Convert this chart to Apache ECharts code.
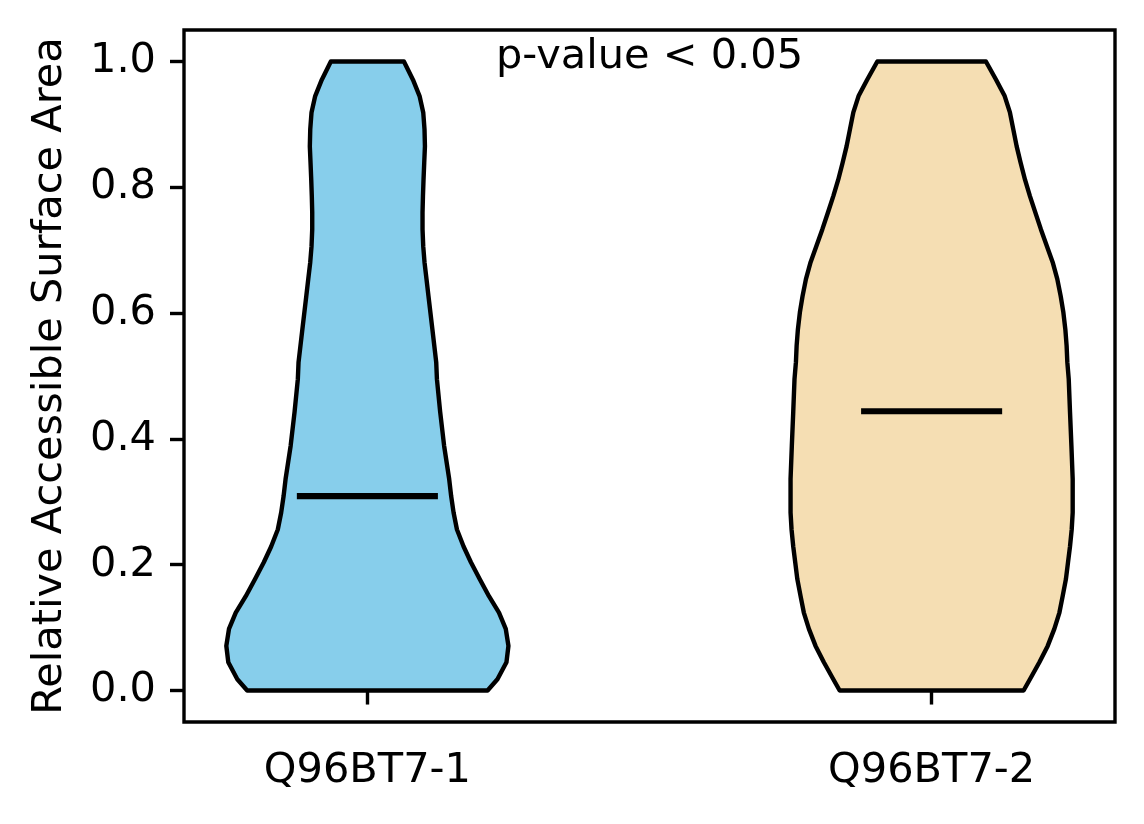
<!DOCTYPE html>
<html>
<head>
<meta charset="utf-8">
<script src="https://cdn.jsdelivr.net/npm/echarts@6/dist/echarts.min.js"></script>
<style>
html,body{margin:0;padding:0;background:#fff;}
#chart{width:1144px;height:824px;}
</style>
</head>
<body>
<div id="chart"></div>
<script>
// ---- data ----
const categories = ['Q96BT7-1', 'Q96BT7-2'];
const positions = [1, 2];
const medians = [0.309, 0.444];
const yTicks = [0, 0.2, 0.4, 0.6, 0.8, 1.0];
const annotation = 'p-value < 0.05';

// violin 1 density profile (y value, relative density 0..1)
const kdeY1 = [0.000, 0.018, 0.045, 0.071, 0.098, 0.124, 0.150, 0.177, 0.204, 0.229, 0.256, 0.283, 0.309, 0.336, 0.389, 0.443, 0.495, 0.522, 0.574, 0.627, 0.654, 0.681, 0.706, 0.733, 0.760, 0.786, 0.812, 0.839, 0.865, 0.892, 0.919, 0.945, 0.971, 1.000];
const kdeW1 = [0.852, 0.922, 0.986, 1.000, 0.981, 0.933, 0.862, 0.797, 0.734, 0.682, 0.635, 0.611, 0.594, 0.580, 0.544, 0.516, 0.493, 0.488, 0.461, 0.433, 0.419, 0.405, 0.396, 0.391, 0.391, 0.394, 0.398, 0.403, 0.408, 0.405, 0.396, 0.370, 0.323, 0.259];

// violin 2 density profile
const kdeY2 = [0.000, 0.018, 0.045, 0.071, 0.098, 0.124, 0.150, 0.177, 0.204, 0.229, 0.256, 0.283, 0.336, 0.389, 0.443, 0.495, 0.522, 0.548, 0.574, 0.601, 0.627, 0.654, 0.681, 0.706, 0.733, 0.760, 0.786, 0.812, 0.839, 0.865, 0.892, 0.919, 0.945, 0.971, 1.000];
const kdeW2 = [0.652, 0.697, 0.764, 0.823, 0.870, 0.906, 0.929, 0.952, 0.967, 0.981, 0.993, 1.000, 1.000, 0.991, 0.981, 0.972, 0.962, 0.957, 0.948, 0.934, 0.915, 0.891, 0.858, 0.818, 0.775, 0.735, 0.697, 0.662, 0.631, 0.603, 0.579, 0.555, 0.518, 0.457, 0.385];

// ---- styles ----
const kdeYs = [kdeY1, kdeY2];
const kdeWs = [kdeW1, kdeW2];
const fills = ['#87CEEB', '#F5DEB3'];
const maxHalfWidth = 0.25;
const medianHalf = 0.125;
const FONT = '"DejaVu Sans", "Liberation Sans", sans-serif';
const FS = 41.5;

const chart = echarts.init(document.getElementById('chart'), null, {renderer: 'canvas'});

const option = {
  backgroundColor: '#fff',
  animation: false,
  grid: {
    left: 184, right: 29, top: 30, bottom: 102,
    show: true, borderColor: '#000', borderWidth: 3.4, backgroundColor: 'transparent'
  },
  xAxis: {
    type: 'value', min: 0.675, max: 2.325,
    axisLine: {show: false},
    splitLine: {show: false},
    axisTick: {show: true, length: 14, customValues: positions, lineStyle: {color: '#000', width: 3.4}},
    axisLabel: {
      show: true, customValues: positions, margin: 28,
      color: '#000', fontSize: FS, fontFamily: FONT,
      formatter: v => categories[positions.indexOf(Math.round(v))] || ''
    }
  },
  yAxis: {
    type: 'value', min: -0.05, max: 1.05,
    name: 'Relative Accessible Surface Area',
    nameLocation: 'middle', nameGap: 113,
    nameTextStyle: {color: '#000', fontSize: FS, fontFamily: FONT},
    axisLine: {show: false},
    splitLine: {show: false},
    axisTick: {show: true, length: 14, customValues: yTicks, lineStyle: {color: '#000', width: 3.4}},
    axisLabel: {
      show: true, customValues: yTicks, margin: 28,
      color: '#000', fontSize: FS, fontFamily: FONT,
      formatter: v => Number(v).toFixed(1)
    }
  },
  series: [
    {
      type: 'custom',
      name: 'violins',
      coordinateSystem: 'cartesian2d',
      data: positions.map((p, i) => [i, p]),
      renderItem: function (params, api) {
        const i = api.value(0);
        const pos = positions[i];
        const ys = kdeYs[i], ws = kdeWs[i];
        const pts = [];
        for (let k = 0; k < ys.length; k++) pts.push(api.coord([pos - ws[k] * maxHalfWidth, ys[k]]));
        for (let k = ys.length - 1; k >= 0; k--) pts.push(api.coord([pos + ws[k] * maxHalfWidth, ys[k]]));
        return {
          type: 'polygon',
          shape: {points: pts},
          style: {fill: fills[i], stroke: '#000', lineWidth: 4.4, lineJoin: 'round'}
        };
      },
      z: 2
    },
    {
      type: 'custom',
      name: 'medians',
      coordinateSystem: 'cartesian2d',
      data: positions.map((p, i) => [p, medians[i]]),
      renderItem: function (params, api) {
        const p = api.value(0), m = api.value(1);
        const a = api.coord([p - medianHalf, m]);
        const b = api.coord([p + medianHalf, m]);
        return {
          type: 'line',
          shape: {x1: a[0], y1: a[1], x2: b[0], y2: b[1]},
          style: {stroke: '#000', lineWidth: 6.2, lineCap: 'butt'}
        };
      },
      z: 3
    },
    {
      type: 'custom',
      name: 'annotation',
      coordinateSystem: 'cartesian2d',
      data: [[1.5, 1.0]],
      renderItem: function (params, api) {
        const c = api.coord([api.value(0), api.value(1)]);
        return {
          type: 'text',
          x: c[0], y: c[1] - 4,
          style: {text: annotation, fill: '#000', fontSize: FS, fontFamily: FONT, align: 'center', verticalAlign: 'middle'}
        };
      },
      z: 4
    }
  ]
};
chart.setOption(option);
</script>
</body>
</html>
